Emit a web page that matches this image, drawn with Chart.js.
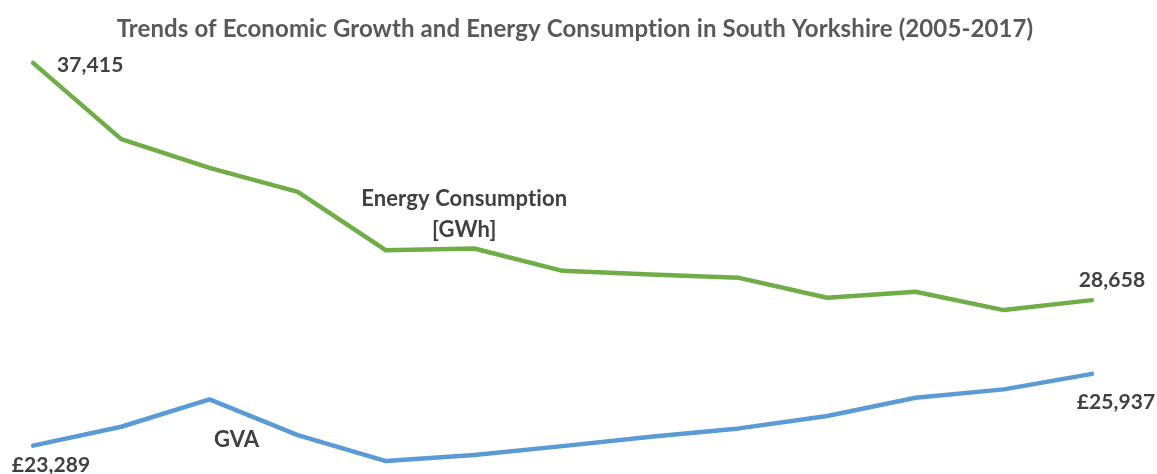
<!DOCTYPE html>
<html>
<head>
<meta charset="utf-8">
<script src="https://cdn.jsdelivr.net/npm/chart.js@4.4.0/dist/chart.umd.min.js"></script>
<style>
  html, body { margin: 0; padding: 0; background: #ffffff; }
  #wrap { width: 1157px; height: 474px; position: relative; }
</style>
</head>
<body>
<div id="wrap"><canvas id="c" width="1157" height="474"></canvas></div>
<script>
const years = ["2005","2006","2007","2008","2009","2010","2011","2012","2013","2014","2015","2016","2017"];
const energyGWh = [37415, 34600, 33540, 32655, 30495, 30565, 29740, 29605, 29480, 28745, 28965, 28290, 28658];
const gvaPounds = [23289, 23985, 24995, 23675, 22720, 22940, 23270, 23615, 23925, 24380, 25055, 25365, 25937];
const energyName = ["Energy Consumption", "[GWh]"];
const gvaName = "GVA";
const titleText = "Trends of Economic Growth and Energy Consumption in South Yorkshire (2005-2017)";

const FONT = "Lato, 'Open Sans', sans-serif";
const fmt = v => v.toLocaleString("en-GB");

const labelPlugin = {
  id: "labels",
  afterDatasetsDraw(chart) {
    const ctx = chart.ctx;
    const e = chart.getDatasetMeta(0).data;
    const g = chart.getDatasetMeta(1).data;
    const last = e.length - 1;
    ctx.save();
    if ("letterSpacing" in ctx) ctx.letterSpacing = "0.1px";
    // title
    ctx.fillStyle = "#595959";
    ctx.font = "bold 24px " + FONT;
    ctx.textBaseline = "middle";
    ctx.textAlign = "center";
    ctx.fillText(titleText, 575, 29);
    // data labels
    ctx.fillStyle = "#404040";
    ctx.font = "bold 21px " + FONT;
    ctx.textAlign = "left";
    ctx.fillText(fmt(energyGWh[0]), e[0].x + 24, e[0].y + 2);
    ctx.textAlign = "center";
    ctx.fillText(fmt(energyGWh[last]), e[last].x + 20, e[last].y - 20);
    ctx.fillText("£" + fmt(gvaPounds[0]), g[0].x + 18, g[0].y + 20);
    ctx.fillText("£" + fmt(gvaPounds[last]), g[last].x + 24, g[last].y + 28);
    // series names
    ctx.font = "bold 22px " + FONT;
    ctx.fillText(gvaName, g[2].x + 27, g[2].y + 41);
    ctx.fillText(energyName[0], e[5].x - 10, e[5].y - 50);
    ctx.fillText(energyName[1], e[5].x - 10, e[5].y - 19);
    ctx.restore();
  }
};

new Chart(document.getElementById("c"), {
  type: "line",
  data: {
    labels: years,
    datasets: [
      { label: "Energy Consumption [GWh]", data: energyGWh, borderColor: "#70AD47", backgroundColor: "#70AD47" },
      { label: "GVA", data: gvaPounds, borderColor: "#5B9BD5", backgroundColor: "#5B9BD5" }
    ]
  },
  options: {
    responsive: false,
    animation: false,
    devicePixelRatio: 1,
    elements: {
      line: { borderWidth: 4.5, tension: 0, borderCapStyle: "round", borderJoinStyle: "round" },
      point: { radius: 0, hoverRadius: 0 }
    },
    layout: { padding: { left: 33, right: 65, top: 47, bottom: 7 } },
    scales: {
      x: { display: false, offset: false },
      y: { display: false, min: 22500, max: 38000 }
    },
    plugins: {
      legend: { display: false },
      tooltip: { enabled: false },
      title: { display: false }
    }
  },
  plugins: [labelPlugin]
});
</script>
</body>
</html>
